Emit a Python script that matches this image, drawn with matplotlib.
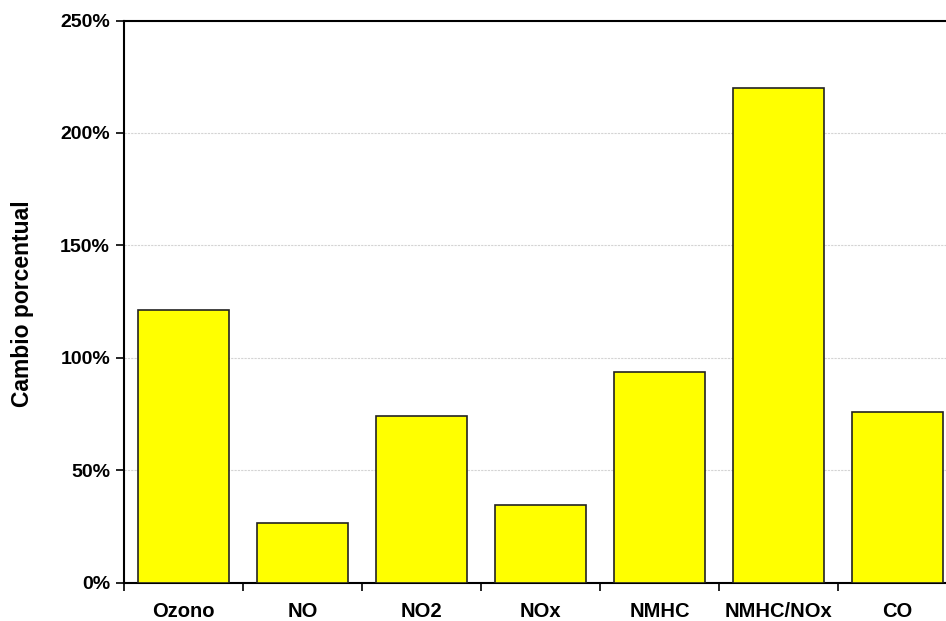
import matplotlib
matplotlib.use("Agg")
import matplotlib.pyplot as plt
from matplotlib.ticker import FuncFormatter, FixedLocator

categories = ["Ozono", "NO", "NO2", "NOx", "NMHC", "NMHC/NOx", "CO"]
cambio = [121.2, 26.5, 74.1, 34.5, 93.6, 220.0, 75.7]
y_ticks = [0, 50, 100, 150, 200, 250]

plt.rcParams["font.family"] = ["Liberation Sans", "DejaVu Sans"]
plt.rcParams["font.weight"] = "bold"

W, H = 946, 621
fig = plt.figure(figsize=(W / 100, H / 100), dpi=100)
left, right, top, bottom = 124, 957, 20.5, 582.5
ax = fig.add_axes([left / W, 1 - bottom / H, (right - left) / W, (bottom - top) / H])

x = range(len(categories))
ax.bar(x, cambio, width=0.77, color="#ffff00", edgecolor="#222222", linewidth=1.2, zorder=3)

ax.set_xlim(-0.5, len(categories) - 0.5)
ax.set_ylim(0, 250)
ax.set_yticks(y_ticks)
ax.yaxis.set_major_formatter(FuncFormatter(lambda v, _: f"{v:.0f}%"))
ax.yaxis.grid(True, color="#d4d4d4", linestyle=(0, (2, 1)), linewidth=0.8, zorder=0)

ax.xaxis.set_major_locator(FixedLocator([i + 0.5 for i in range(-1, len(categories))]))
ax.set_xticklabels([])
ax.set_xticks(list(x), minor=True)
ax.set_xticklabels(categories, minor=True)
ax.tick_params(axis="x", which="minor", length=0, pad=14, labelsize=14.5)
ax.tick_params(axis="x", which="major", direction="out", length=6, width=1.2)
ax.tick_params(axis="y", direction="out", length=6, width=1.2, labelsize=14, pad=4)
for lbl in ax.get_xticklabels(minor=True) + ax.get_yticklabels():
    lbl.set_fontweight("bold")

for side in ["left", "bottom", "top"]:
    ax.spines[side].set_linewidth(1.5)
ax.spines["right"].set_visible(False)

ax.set_ylabel("Cambio porcentual", fontsize=16.5, fontweight="bold")
ax.yaxis.set_label_coords(22 / W, 1 - 304 / H, transform=fig.transFigure)
ax.yaxis.label.set_verticalalignment("center")

fig.savefig("out.png", dpi=100)
